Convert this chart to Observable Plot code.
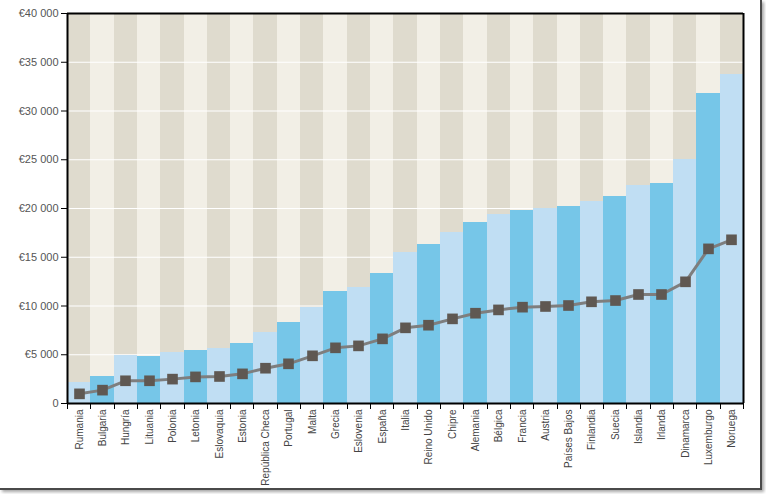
<!DOCTYPE html>
<html>
<head>
<meta charset="utf-8">
<script src="https://cdn.jsdelivr.net/npm/d3@7"></script>
<script src="https://cdn.jsdelivr.net/npm/@observablehq/plot@0.6"></script>
<style>
  html, body { margin: 0; padding: 0; background: #fff; }
  #wrap { position: relative; width: 766px; height: 494px; overflow: hidden; }
  #frame { position: absolute; left: 0; top: 0; width: 760px; height: 488px;
           border-right: 2px solid #4a4a4a; border-bottom: 2px solid #4a4a4a;
           box-shadow: 2px 2px 3px rgba(0,0,0,0.35); pointer-events: none; }
</style>
</head>
<body>
<div id="wrap"><div id="frame"></div></div>
<script>
const countries = ["Rumania","Bulgaria","Hungría","Lituania","Polonia","Letonia","Eslovaquia","Estonia","República Checa","Portugal","Malta","Grecia","Eslovenia","España","Italia","Reino Unido","Chipre","Alemania","Bélgica","Francia","Austria","Países Bajos","Finlandia","Suecia","Islandia","Irlanda","Dinamarca","Luxemburgo","Noruega"];
const barValues = [2190, 2800, 4900, 4850, 5260, 5440, 5610, 6190, 7280, 8280, 9810, 11490, 11860, 13370, 15520, 16310, 17520, 18600, 19380, 19790, 19960, 20240, 20750, 21230, 22360, 22530, 24990, 31760, 33740];
const lineValues = [990, 1370, 2330, 2330, 2500, 2730, 2770, 3040, 3620, 4070, 4890, 5710, 5910, 6630, 7760, 8030, 8680, 9260, 9600, 9880, 9950, 10050, 10430, 10560, 11180, 11180, 12480, 15860, 16790];
const yTicks = [0, 5000, 10000, 15000, 20000, 25000, 30000, 35000, 40000];

const n = countries.length;
const yMax = 40000;
const stripeDark = "#dfdbce", stripeLight = "#f2efe6";
const barLight = "#c0def3", barMid = "#76c6e8";

const fmt = d => d === 0 ? "0" : "€" + d3.format(",")(d).replace(/,/g, " ");

const chart = Plot.plot({
  width: 766,
  height: 494,
  marginLeft: 67,
  marginRight: 23,
  marginTop: 13,
  marginBottom: 91,
  style: { fontFamily: "'Liberation Sans', Arial, sans-serif", background: "transparent" },
  x: { type: "linear", domain: [0, n], round: true },
  y: { domain: [0, yMax] },
  color: { type: "identity" },
  marks: [
    Plot.rectY(countries, { x1: (d, i) => i, x2: (d, i) => i + 1, y1: 0, y2: yMax,
      fill: (d, i) => i % 2 ? stripeLight : stripeDark, shapeRendering: "crispEdges" }),
    Plot.ruleY(yTicks.filter(v => v > 0 && v < yMax), { stroke: "#ffffff", strokeWidth: 1.2 }),
    Plot.rectY(barValues, { x1: (d, i) => i, x2: (d, i) => i + 1, y1: 0, y2: d => d,
      fill: (d, i) => i % 2 ? barMid : barLight, shapeRendering: "crispEdges" }),
    Plot.line(lineValues, { x: (d, i) => i + 0.5, y: d => d, stroke: "#7e7e7e", strokeWidth: 3 }),
    Plot.dot(lineValues, { x: (d, i) => i + 0.5, y: d => d, symbol: "square", r: 6, fill: "#5f5852", stroke: "none" }),
    Plot.axisY({ ticks: yTicks, tickFormat: fmt, tickSize: 6, tickPadding: 3, fontSize: 11, stroke: "#000", fill: "#555", label: null }),
    Plot.axisX({ ticks: d3.range(0, n + 1), tickFormat: () => "", tickSize: 6, stroke: "#000", label: null }),
    Plot.axisX({ ticks: d3.range(n).map(i => i + 0.5), tickFormat: v => countries[Math.floor(v)], tickSize: 0, tickPadding: 6, tickRotate: -90, fontSize: 10, fill: "#444", label: null }),
    Plot.ruleY([0], { stroke: "#000", strokeWidth: 2 }),
    Plot.ruleY([yMax], { stroke: "#000", strokeWidth: 2 }),
    Plot.ruleX([0], { stroke: "#000", strokeWidth: 2 }),
    Plot.ruleX([n], { stroke: "#000", strokeWidth: 2 })
  ]
});
chart.style.position = "absolute";
chart.style.left = "0";
chart.style.top = "0";
document.getElementById("wrap").appendChild(chart);
</script>
</body>
</html>
